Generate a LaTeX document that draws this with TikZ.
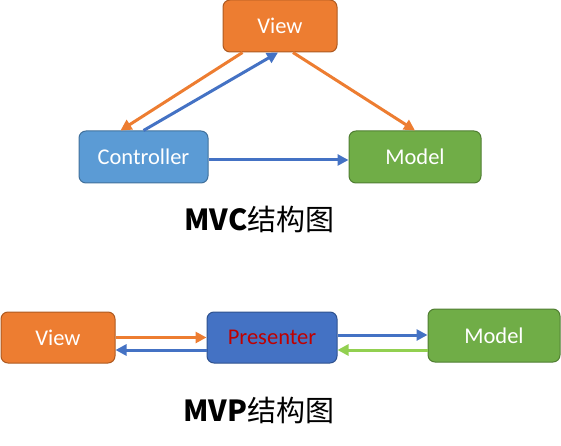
\documentclass[tikz,border=0pt]{standalone}
\usepackage{fontspec}
\setmainfont{Carlito}
\newfontfamily\cjkfont{Noto Sans CJK SC}
\usetikzlibrary{arrows.meta,calc}
\definecolor{orF}{HTML}{ED7D31}\definecolor{orD}{HTML}{AE5A21}
\definecolor{lbF}{HTML}{5B9BD5}\definecolor{lbD}{HTML}{41719C}
\definecolor{grF}{HTML}{70AD47}\definecolor{grD}{HTML}{507E32}
\definecolor{blF}{HTML}{4472C4}\definecolor{blD}{HTML}{2F528F}
\definecolor{lgr}{HTML}{92D050}\definecolor{dred}{HTML}{C00000}
\begin{document}
\begin{tikzpicture}[x=1pt,y=-1pt,
  box/.style={draw, line width=1pt, rounded corners=7pt, minimum height=52pt, inner sep=0pt,
    text=white, font=\fontsize{22.5}{24}\selectfont},
  conn/.style={line width=3pt, -{Triangle[length=11pt,width=11pt]}},
  ttl/.style={font=\fontsize{29}{31}\selectfont\cjkfont}]
\useasboundingbox (0,0) rectangle (561,446);
% MVC
\node[box, fill=orF, draw=orD, minimum width=114pt] (view) at (280,26) {View};
\node[box, fill=lbF, draw=lbD, minimum width=129pt] (ctrl) at (143.5,157) {Controller};
\node[box, fill=grF, draw=grD, minimum width=132pt] (model) at (415,157) {Model};
\draw[conn, orF] ($(view.south west)+(20,0)$) -- ($(ctrl.north west)+(42,0)$);
\draw[conn, blF] (ctrl.north) -- ($(view.south)+(-2,0)$);
\draw[conn, orF] ($(view.south)+(13,0)$) -- (model.north);
\draw[conn, blF] ($(ctrl.east)+(0,3)$) -- ($(model.west)+(0,3)$);
\node[ttl] (t1) at (259.5,219) {\textbf{MVC}结构图};
% MVP
\node[box, fill=orF, draw=orD, minimum width=114pt, minimum height=51pt] (v2) at (58,337.5) {View};
\node[box, fill=blF, draw=blD, minimum width=130pt, minimum height=51pt, text=dred] (pres) at (272,337.5) {Presenter};
\node[box, fill=grF, draw=grD, minimum width=132pt, minimum height=53pt] (m2) at (494,335.5) {Model};
\draw[conn, orF] (v2.east) -- (pres.west);
\draw[conn, blF] ($(pres.west)+(0,12.5)$) -- ($(v2.east)+(0,12.5)$);
\draw[conn, blF] ($(pres.east)+(0,-2.5)$) -- ($(m2.west)+(0,-0.5)$);
\draw[conn, lgr] ($(m2.west)+(0,14.5)$) -- ($(pres.east)+(0,12.5)$);
\node[ttl] (t2) at (259,410) {\textbf{MVP}结构图};
\end{tikzpicture}
\end{document}
